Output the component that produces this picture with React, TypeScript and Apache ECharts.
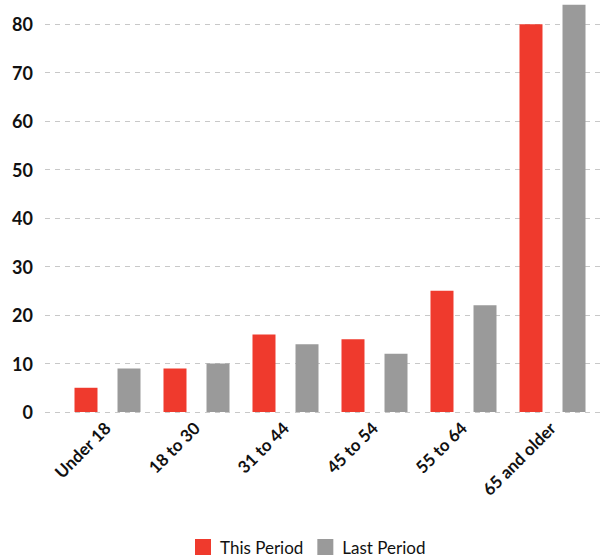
import React, { useEffect, useRef } from "react";
import * as echarts from "echarts";

const categories = ["Under 18", "18 to 30", "31 to 44", "45 to 54", "55 to 64", "65 and older"];
const thisPeriod = [5, 9, 16, 15, 25, 80];
const lastPeriod = [9, 10, 14, 12, 22, 84];
const seriesNames = ["This Period", "Last Period"];

const FONT = "Lato, 'Open Sans', sans-serif";

export default function App() {
  const ref = useRef<HTMLDivElement>(null);
  useEffect(() => {
    if (!ref.current) return;
    const chart = echarts.init(ref.current, undefined, { renderer: "svg" });
    chart.setOption({
      animation: false,
      textStyle: { fontFamily: FONT },
      legend: {
        left: 195,
        top: 538,
        padding: 0,
        itemWidth: 16,
        itemHeight: 16,
        itemGap: 14,
        icon: "rect",
        textStyle: { fontSize: 17, lineHeight: 18, color: "#111", fontFamily: FONT, padding: [0, 0, 0, 4] },
        data: seriesNames,
      },
      grid: [
        { left: 45, right: 0, top: 0, height: 412 },
        { left: 63, width: 534, top: 0, height: 412 },
      ],
      xAxis: [
        { gridIndex: 0, type: "value", show: false },
        {
          gridIndex: 1,
          type: "category",
          data: categories,
          axisLine: { show: false },
          axisTick: { show: false },
          axisLabel: {
            rotate: 45,
            margin: 13,
            fontSize: 17,
            fontWeight: "bold",
            color: "#111",
            fontFamily: FONT,
          },
        },
      ],
      yAxis: [
        {
          gridIndex: 0,
          type: "value",
          min: 0,
          max: 85,
          interval: 10,
          axisLine: { show: false },
          axisTick: { show: false },
          axisLabel: {
            margin: 12,
            fontSize: 18,
            fontWeight: "bold",
            color: "#111",
            showMaxLabel: false,
            fontFamily: FONT,
          },
          splitLine: { showMaxLine: false, lineStyle: { color: "#c8c8c8", type: [5, 5], width: 1 } },
        },
        { gridIndex: 1, type: "value", min: 0, max: 85, show: false, splitLine: { show: false } },
      ],
      series: [
        {
          name: seriesNames[0],
          type: "bar",
          xAxisIndex: 1,
          yAxisIndex: 1,
          data: thisPeriod,
          barWidth: 23,
          barGap: "87%",
          itemStyle: { color: "#ef3a2d" },
        },
        {
          name: seriesNames[1],
          type: "bar",
          xAxisIndex: 1,
          yAxisIndex: 1,
          data: lastPeriod,
          barWidth: 23,
          barGap: "87%",
          itemStyle: { color: "#9a9a9a" },
        },
      ],
    });
    return () => chart.dispose();
  }, []);
  return <div ref={ref} style={{ width: 602, height: 558, position: "absolute", left: 0, top: 0 }} />;
}
